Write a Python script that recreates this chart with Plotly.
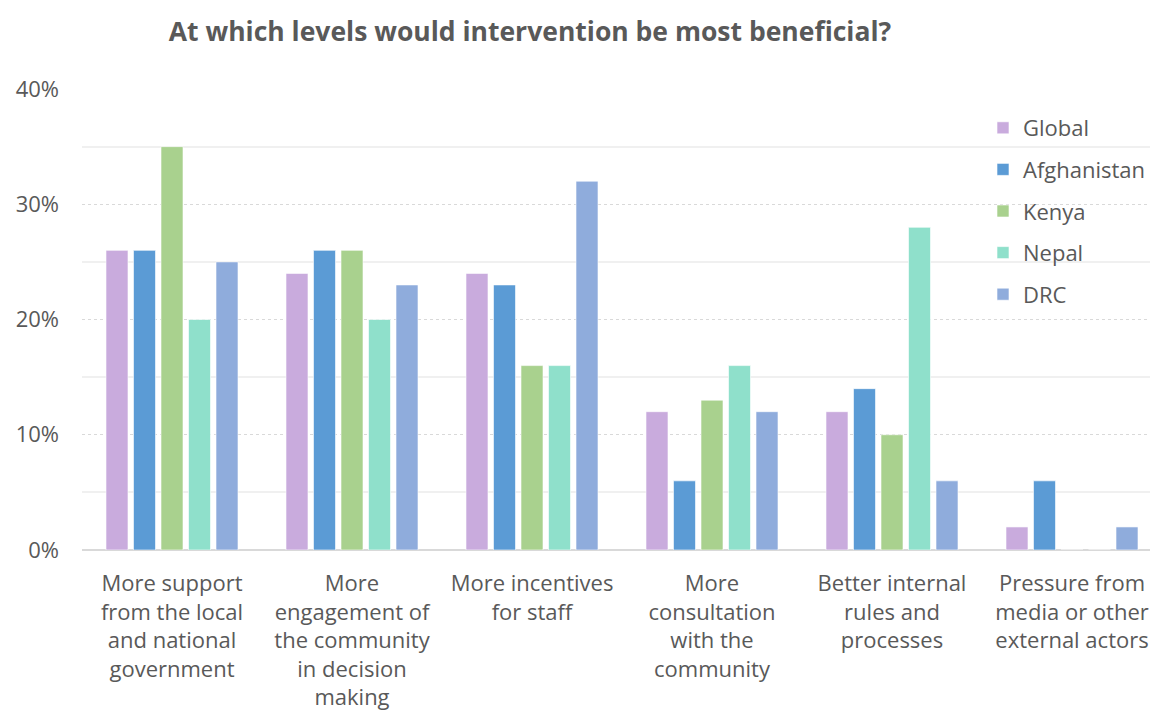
import plotly.graph_objects as go

categories = [
    "More support<br>from the local<br>and national<br>government",
    "More<br>engagement of<br>the community<br>in decision<br>making",
    "More incentives<br>for staff",
    "More<br>consultation<br>with the<br>community",
    "Better internal<br>rules and<br>processes",
    "Pressure from<br>media or other<br>external actors",
]

global_vals = [0.26, 0.24, 0.24, 0.12, 0.12, 0.02]
afghanistan_vals = [0.26, 0.26, 0.23, 0.06, 0.14, 0.06]
kenya_vals = [0.35, 0.26, 0.16, 0.13, 0.10, 0.0]
nepal_vals = [0.20, 0.20, 0.16, 0.16, 0.28, 0.0]
drc_vals = [0.25, 0.23, 0.32, 0.12, 0.06, 0.02]

series = [
    ("Global", global_vals, "#C9ABDD"),
    ("Afghanistan", afghanistan_vals, "#5B9BD5"),
    ("Kenya", kenya_vals, "#A9D18E"),
    ("Nepal", nepal_vals, "#8FE0CB"),
    ("DRC", drc_vals, "#8FACDC"),
]

FONT = "Open Sans"
TEXT = "#595959"
PLOT_TOP, PLOT_BOTTOM = 89, 550

fig = go.Figure()
for name, vals, color in series:
    fig.add_trace(go.Bar(
        name=name,
        x=list(range(len(categories))),
        y=vals,
        marker=dict(color=color, line=dict(color="white", width=0.6)),
        legendgroup=name,
    ))

fig.update_layout(
    width=1150,
    height=727,
    margin=dict(l=82, r=0, t=PLOT_TOP, b=727 - PLOT_BOTTOM, autoexpand=False),
    paper_bgcolor="white",
    plot_bgcolor="white",
    barmode="group",
    bargap=0.236,
    bargroupgap=0.2,
    font=dict(family=FONT, color=TEXT, size=22),
    title=dict(
        text="<b>At which levels would intervention be most beneficial?</b>",
        x=530 / 1150, xanchor="center", xref="container",
        y=1 - 32 / 727, yanchor="middle", yref="container",
        font=dict(family=FONT, size=26.5, color=TEXT),
    ),
    legend=dict(
        x=(983 - 82) / (1150 - 82), xanchor="left", xref="paper",
        y=(PLOT_BOTTOM - 107) / (PLOT_BOTTOM - PLOT_TOP), yanchor="top", yref="paper",
        font=dict(family=FONT, size=22, color=TEXT),
        tracegroupgap=10,
        bgcolor="rgba(0,0,0,0)",
        itemwidth=30,
    ),
    showlegend=True,
)

fig.update_xaxes(
    tickmode="array",
    tickvals=list(range(len(categories))),
    ticktext=categories,
    range=[-0.5, 5.5 - 12 / 180],
    showgrid=False,
    showline=False,
    ticks="",
    tickangle=0,
    ticklabelstandoff=18,
    tickfont=dict(family=FONT, size=22, color=TEXT),
    automargin=False,
)

fig.update_yaxes(
    range=[0, 0.4],
    dtick=0.1,
    tickformat=".0%",
    showgrid=True,
    gridcolor="#D9D9D9",
    griddash="dot",
    gridwidth=1,
    minor=dict(dtick=0.05, showgrid=True, gridcolor="#F0F0F0", gridwidth=1.5, griddash="solid"),
    zeroline=True,
    zerolinecolor="#D9D9D9",
    zerolinewidth=2,
    showline=False,
    ticks="",
    ticklabelstandoff=22,
    tickfont=dict(family=FONT, size=22, color=TEXT),
    automargin=False,
)

fig.write_html("out.html")
